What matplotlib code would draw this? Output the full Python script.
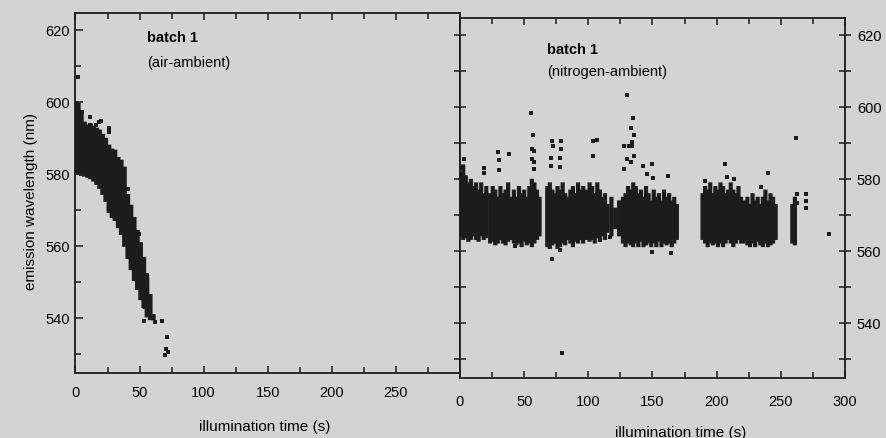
import numpy as np
import matplotlib
matplotlib.use("Agg")
import matplotlib.pyplot as plt
from matplotlib.ticker import MultipleLocator

plt.rcParams['font.family'] = ['Liberation Sans', 'DejaVu Sans']

# ---- batch 1, air-ambient: dense band (time, lower / upper wavelength) ----
air_t  = [0.5, 2.2, 4.6, 7.0, 9.4, 11.7, 14.1, 16.5, 18.8, 21.2, 23.6, 26.1, 28.5,
          30.8, 33.3, 35.7, 38.2, 40.8, 43.3, 45.8, 48.3, 50.8, 53.3, 55.8, 58.3, 60.7]
air_hi = [600.1, 599.8, 597.3, 594.5, 593.7, 594.0, 593.4, 592.8, 592.3, 591.1, 590.0, 588.1, 587.0,
          586.7, 584.7, 583.9, 582.0, 574.4, 571.4, 568.0, 564.4, 561.0, 556.9, 551.3, 546.6, 541.0]
air_lo = [580.0, 579.7, 579.4, 579.2, 578.9, 578.5, 577.8, 576.9, 575.8, 574.1, 572.2, 569.1, 567.7,
          566.9, 564.9, 563.0, 559.7, 556.3, 553.2, 550.2, 547.7, 544.9, 542.6, 540.1, 539.3, 539.3]
# scattered single points, air-ambient
air_pt_t = [1.9, 11.4, 18.1, 26.0, 11.0, 34.2, 41.0, 49.5, 55.7, 53.7, 62.3, 67.5, 71.1, 70.4,
            72.2, 69.6, 16.0, 20.0, 26.3, 2.3, 5.0, 54.3]
air_pt_w = [606.8, 595.9, 594.5, 591.7, 593.6, 582.9, 575.9, 563.4, 551.8, 539.2, 538.7, 539.2,
            534.6, 531.3, 530.4, 529.5, 593.6, 594.7, 592.6, 598.2, 597.3, 542.9]

# ---- batch 1, nitrogen-ambient: dense clusters ----
n2_t  = [0.5, 2.5, 4.5, 6.5, 8.5, 10.5, 12.5, 14.5, 16.5, 18.5, 20.5,
         23.5, 25.5, 27.5, 29.5, 31.5, 33.5, 35.5, 37.5, 39.5,
         42, 44, 46, 48, 50, 52, 54, 56, 58, 60, 62,
         68, 70, 72, 74, 76, 78, 80, 82, 84, 86, 88, 90, 92, 94, 96,
         99, 101, 103, 105, 107, 109, 111, 113,
         115, 118, 121, 124,
         127, 129, 131, 133, 135, 137, 139, 141, 143, 145, 147, 149, 151, 153, 155, 157,
         159, 161, 163, 165, 167, 169,
         189, 191, 193, 195, 197, 199, 201, 203, 205, 207, 209, 211, 213, 215, 217, 219,
         222, 224, 226, 228, 230, 232, 234, 236, 238, 240, 242, 244, 246,
         259, 261]
n2_hi = [582, 584, 581, 579, 580, 578, 579, 577, 579, 576, 578,
         576, 578, 577, 575, 578, 576, 577, 579, 575,
         577, 575, 578, 576, 577, 575, 578, 580, 579, 577, 575,
         578, 579, 577, 576, 578, 577, 579, 576, 575, 577, 578, 576, 579, 577, 578,
         577, 579, 578, 576, 579, 577, 575, 576,
         573, 575, 572, 574,
         575, 576, 578, 577, 579, 578, 576, 577, 575, 578, 576, 574, 577, 575, 576, 574,
         577, 575, 576, 574, 575, 573,
         576, 578, 577, 579, 576, 578, 577, 579, 578, 576, 577, 579, 577, 576, 578, 575,
         574, 575, 573, 576, 574, 575, 573, 575, 577, 574, 576, 575, 573,
         573, 575]
n2_lo = [564, 563, 563.5, 562.5, 563, 564, 563, 562.5, 564, 563, 563.5,
         562, 562.5, 561.5, 562, 563, 562, 561.5, 562.5, 563,
         562, 561.5, 562, 561, 562.5, 561.5, 562, 561, 562, 563, 564,
         561, 560.5, 561.5, 562, 560.5, 561, 562, 561.5, 563, 562, 561, 562.5, 562, 563, 562,
         563, 562.5, 563, 562, 563.5, 562.5, 564, 563,
         565, 564, 566, 564,
         562, 561, 562, 561.5, 561, 562, 561, 562.5, 561, 561.5, 562, 561, 562, 561, 562.5, 561,
         562, 561.5, 562, 561, 562, 563,
         563, 562, 561, 562, 561.5, 562, 561, 562, 561, 562, 563, 562, 561, 562, 563, 562,
         562, 561.5, 561, 562, 561, 562.5, 561.5, 561, 562, 561, 561.5, 562, 563,
         562, 561.5]
# scattered single points, nitrogen-ambient
n2_pt_t = [55.4, 57.0, 56.0, 57.3, 56.3, 57.6, 57.9,
           71.9, 78.6, 72.1, 78.8, 70.8, 71.0, 78.1, 78.3,
           106.9, 103.4, 104.0,
           130.3, 135.0, 133.4, 135.9, 133.8, 127.6, 131.4, 134.0, 135.6, 130.0, 133.6, 127.9,
           143.0, 149.5, 145.6, 150.4, 162.0,
           206.4, 240.2, 191.1, 207.9, 213.6, 234.6,
           261.8, 262.5, 262.5, 269.8, 269.8, 269.8, 287.2,
           79.5, 71.8,
           18.6, 18.6, 30.0, 37.8, 30.1, 30.4, 1.7, 3.5,
           43.0, 55.9, 78.1, 109.0, 116.7, 149.3, 164.8]
n2_pt_w = [598.3, 592.1, 588.4, 587.6, 585.6, 584.8, 582.8,
           590.5, 590.4, 589.0, 588.4, 585.9, 583.6, 585.9, 583.3,
           590.7, 586.4, 590.6,
           603.2, 596.9, 594.1, 592.1, 590.3, 589.0, 589.0, 589.0, 586.3, 585.5, 584.7, 582.6,
           583.5, 584.1, 581.2, 580.1, 580.8,
           584.1, 581.7, 579.4, 580.4, 580.0, 577.7,
           591.3, 575.8, 573.2, 575.7, 573.8, 572.0, 564.7,
           531.6, 557.6,
           583.1, 581.7, 587.4, 587.0, 585.2, 582.4, 583.0, 585.5,
           561.4, 562.0, 560.2, 563.0, 563.8, 559.7, 559.3]

ink = '#1c1c1c'
paper = '#d3d3d3'

fig = plt.figure(figsize=(8.87, 4.39), dpi=100, facecolor=paper)
ax1 = fig.add_axes([0.0851, 0.1470, 0.4335, 0.8212])
ax2 = fig.add_axes([0.5186, 0.1356, 0.4340, 0.8212])

for ax in (ax1, ax2):
    ax.set_facecolor(paper)
    ax.set_xlim(0, 300)
    ax.set_ylim(524.5, 624.7)
    for s in ax.spines.values():
        s.set_linewidth(1.3)
        s.set_color(ink)
    ax.xaxis.set_major_locator(MultipleLocator(50))
    ax.xaxis.set_minor_locator(MultipleLocator(25))
    ax.yaxis.set_major_locator(MultipleLocator(20))
    ax.yaxis.set_minor_locator(MultipleLocator(10))
    ax.tick_params(axis='x', which='both', direction='in', top=True,
                   labelsize=10.5, color=ink, width=1.1)
    ax.tick_params(axis='x', which='major', length=5)
    ax.tick_params(axis='x', which='minor', length=4)

# left panel
band1 = ax1.vlines(air_t, air_lo, air_hi, color=ink, lw=3.4)
band1.set_snap(False)
ax1.scatter(air_pt_t, air_pt_w, marker='s', s=7, color=ink, lw=0)
ax1.set_xticks([0, 50, 100, 150, 200, 250])
ax1.tick_params(axis='x', which='both', pad=8)
ax1.tick_params(axis='y', which='both', direction='in', left=True, right=False,
                pad=4, labelsize=10.5, color=ink, width=1.1)
ax1.tick_params(axis='y', which='major', length=6)
ax1.tick_params(axis='y', which='minor', length=4)
ax1.set_yticks([540, 560, 580, 600, 620])
ax1.set_ylabel('emission wavelength (nm)', fontsize=11)
ax1.yaxis.set_label_coords(-0.097, 0.48)
ax1.set_xlabel('illumination time (s)', fontsize=11)
ax1.xaxis.set_label_coords(0.493, -0.125)
ax1.text(0.186, 0.932, 'batch 1', transform=ax1.transAxes, fontsize=10.5,
         fontweight='bold', va='center', ha='left')
ax1.text(0.186, 0.865, '(air-ambient)', transform=ax1.transAxes, fontsize=10.5,
         va='center', ha='left')

# right panel
band2 = ax2.vlines(n2_t, n2_lo, n2_hi, color=ink, lw=3.0)
band2.set_snap(False)
ax2.scatter(n2_pt_t, n2_pt_w, marker='s', s=7, color=ink, lw=0)
ax2.tick_params(axis='x', which='both', pad=11)
ax2.tick_params(axis='y', which='both', direction='inout', left=True, right=True,
                labelleft=False, labelright=True, pad=4, labelsize=10.5,
                color=ink, width=1.1)
ax2.tick_params(axis='y', which='major', length=9)
ax2.tick_params(axis='y', which='minor', length=8)
ax2.set_yticks([540, 560, 580, 600, 620])
ax2.set_xlabel('illumination time (s)', fontsize=11)
ax2.xaxis.set_label_coords(0.574, -0.128)
ax2.text(0.226, 0.914, 'batch 1', transform=ax2.transAxes, fontsize=10.5,
         fontweight='bold', va='center', ha='left')
ax2.text(0.226, 0.853, '(nitrogen-ambient)', transform=ax2.transAxes, fontsize=10.5,
         va='center', ha='left')

fig.savefig('out.png', dpi=100, facecolor=paper)
